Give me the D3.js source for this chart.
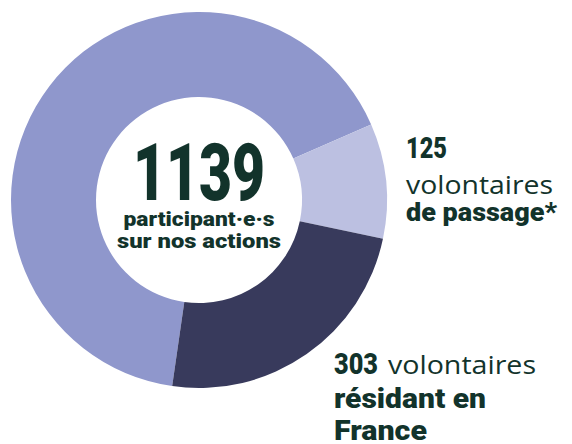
<!DOCTYPE html>
<html>
<head>
<meta charset="utf-8">
<script src="https://cdn.jsdelivr.net/npm/d3@7"></script>
<style>
  body { margin: 0; background: #fff; }
  svg { display: block; }
</style>
</head>
<body>
<div id="chart"></div>
<script>
var width = 572, height = 444;
var total = 1139;

// slices of the ring, in drawing order (clockwise)
var slices = ["autres", "passage", "residant"];
var values = [836, 125, 303];
var colours = ["#8f97cc", "#bcc0e1", "#383a5c"];
var textColour = "#12332b";

var svg = d3.select("#chart")
    .append("svg")
    .attr("width", width)
    .attr("height", height);

var cx = 199, cy = 200, outerR = 188, innerR = 103;

var pie = d3.pie()
    .sort(null)
    .startAngle(-171.8 * Math.PI / 180)
    .endAngle((360 - 171.8) * Math.PI / 180);

var arc = d3.arc()
    .innerRadius(innerR)
    .outerRadius(outerR);

var g = svg.append("g")
    .attr("transform", "translate(" + cx + "," + cy + ")");

g.selectAll(".slice")
    .data(pie(values))
    .enter()
    .append("path")
    .attr("class", "slice")
    .attr("d", arc)
    .style("fill", function(d, i){ return colours[i]; });

var bold = "Roboto, 'Liberation Sans', sans-serif";
var light = "'Open Sans', Lato, sans-serif";

function txt(parent, x, y, str, opts){
    var t = parent.append("text")
        .attr("x", x)
        .attr("y", y)
        .attr("text-anchor", opts.anchor || "start")
        .style("font-family", opts.b ? bold : light)
        .style("font-weight", opts.b ? 900 : 400)
        .style("font-size", opts.s + "px")
        .style("fill", textColour)
        .text(str);
    if (opts.w) {
        t.attr("textLength", opts.w).attr("lengthAdjust", "spacingAndGlyphs");
    }
    return t;
}

// centre text
txt(g, 0, 0, d3.format("d")(total), {anchor: "middle", b: true, s: 80, w: 132});
txt(g, 0, 26, "participant·e·s", {anchor: "middle", b: true, s: 21, w: 151});
txt(g, 0, 48, "sur nos actions", {anchor: "middle", b: true, s: 21, w: 164});

// right labels
txt(svg, 406, 158, values[1], {b: true, s: 30, w: 41});
txt(svg, 406, 194, "volontaires", {b: false, s: 25, w: 147});
txt(svg, 406, 221, "de passage*", {b: true, s: 26, w: 151});

txt(svg, 334, 374, values[2], {b: true, s: 30, w: 44});
txt(svg, 388, 374, "volontaires", {b: false, s: 25, w: 148});
txt(svg, 334, 408, "résidant en", {b: true, s: 28, w: 152});
txt(svg, 334, 440, "France", {b: true, s: 28, w: 93});
</script>
</body>
</html>
